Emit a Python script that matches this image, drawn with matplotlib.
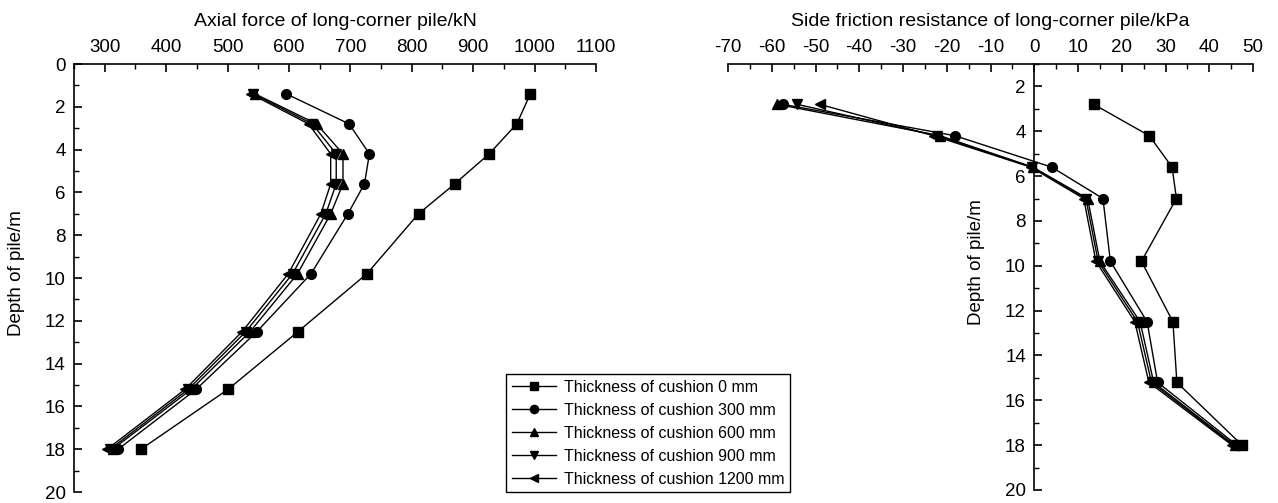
import matplotlib
matplotlib.use("Agg")
import matplotlib.pyplot as plt
from matplotlib.ticker import MultipleLocator, FixedLocator

plt.rcParams['font.family'] = ['Liberation Sans', 'DejaVu Sans']
plt.rcParams['axes.unicode_minus'] = False

# ---------------- data ----------------
series_labels = ["Thickness of cushion 0 mm", "Thickness of cushion 300 mm",
                 "Thickness of cushion 600 mm", "Thickness of cushion 900 mm",
                 "Thickness of cushion 1200 mm"]
markers = ["s", "o", "^", "v", "<"]

depth_axial = [1.4, 2.8, 4.2, 5.6, 7.0, 9.8, 12.5, 15.2, 18.0]
axial_0 = [993, 971, 926, 870, 811, 727, 615, 501, 359]
axial_300 = [596, 698, 731, 723, 696, 636, 548, 449, 322]
axial_600 = [545, 645, 688, 688, 668, 614, 537, 441, 313]
axial_900 = [542, 638, 677, 677, 660, 606, 530, 436, 309]
axial_1200 = [538, 632, 668, 668, 652, 599, 524, 431, 304]

depth_friction = [2.8, 4.2, 5.6, 7.0, 9.8, 12.5, 15.2, 18.0]
friction_0 = [13.6, 26.3, 31.5, 32.5, 24.5, 31.7, 32.6, 47.5]
friction_300 = [-57.4, -18.1, 4.0, 15.7, 17.4, 25.8, 28.2, 46.3]
friction_600 = [-58.7, -21.5, -0.3, 12.2, 15.0, 24.2, 27.3, 45.8]
friction_900 = [-54.2, -22.2, -0.5, 11.8, 14.6, 23.6, 26.8, 45.5]
friction_1200 = [-49.0, -23.0, -0.8, 11.3, 14.1, 23.0, 26.2, 45.2]

axial_series = [axial_0, axial_300, axial_600, axial_900, axial_1200]
friction_series = [friction_0, friction_300, friction_600, friction_900, friction_1200]

axial_ticks = [300, 400, 500, 600, 700, 800, 900, 1000, 1100]
friction_ticks = [-70, -60, -50, -40, -30, -20, -10, 0, 10, 20, 30, 40, 50]
depth_ticks_left = [0, 2, 4, 6, 8, 10, 12, 14, 16, 18, 20]
depth_ticks_right = [2, 4, 6, 8, 10, 12, 14, 16, 18, 20]

# ---------------- figure ----------------
W, H = 1278, 503
fig = plt.figure(figsize=(W / 100, H / 100), dpi=100)

FS = 13.5

def px_axes(x0, x1, ytop, ybot):
    return fig.add_axes([x0 / W, 1 - ybot / H, (x1 - x0) / W, (ybot - ytop) / H])

axL = px_axes(74, 596, 64, 492)
axR = px_axes(728, 1253, 64, 490)

line_kw = dict(color='black', lw=1.0, markersize=7)

handles = []
for vals, m, lab in zip(axial_series, markers, series_labels):
    h, = axL.plot(vals, depth_axial, marker=m, label=lab, **line_kw)
    handles.append(h)
for vals, m in zip(friction_series, markers):
    axR.plot(vals, depth_friction, marker=m, **line_kw)

# left axes
axL.set_xlim(250, 1100)
axL.set_ylim(20, 0)
axL.xaxis.set_major_locator(FixedLocator(axial_ticks))
axL.xaxis.set_minor_locator(MultipleLocator(50))
axL.yaxis.set_major_locator(FixedLocator(depth_ticks_left))
axL.yaxis.set_minor_locator(MultipleLocator(1))
axL.spines['right'].set_visible(False)
axL.spines['bottom'].set_visible(False)
axL.xaxis.tick_top()
axL.xaxis.set_label_position('top')
axL.set_xlabel("Axial force of long-corner pile/kN", fontsize=14, labelpad=9)
axL.set_ylabel("Depth of pile/m", fontsize=FS)
axL.yaxis.set_label_coords(-0.094, 0.512)

# right axes
axR.set_xlim(-70, 50)
axR.set_ylim(20, 1)
axR.xaxis.set_major_locator(FixedLocator(friction_ticks))
axR.xaxis.set_minor_locator(MultipleLocator(5))
axR.yaxis.set_major_locator(FixedLocator(depth_ticks_right))
axR.yaxis.set_minor_locator(MultipleLocator(1))
axR.spines['right'].set_visible(False)
axR.spines['bottom'].set_visible(False)
axR.spines['left'].set_position(('data', 0))
axR.xaxis.tick_top()
axR.xaxis.set_label_position('top')
axR.set_xlabel("Side friction resistance of long-corner pile/kPa", fontsize=14, labelpad=9)
axR.set_ylabel("Depth of pile/m", fontsize=FS)
axR.yaxis.set_label_coords(0.490, 0.535)

for ax in (axL, axR):
    for s in ax.spines.values():
        s.set_linewidth(1.2)
    ax.tick_params(which='major', direction='in', length=6, width=1.2, labelsize=FS, pad=6)
    ax.tick_params(which='minor', direction='in', length=3.5, width=1.0)
    ax.tick_params(axis='x', which='both', top=True, bottom=False, labeltop=True, labelbottom=False)
    ax.tick_params(axis='y', which='both', left=True, right=False)

fig.legend(handles=handles, loc='upper left', bbox_to_anchor=(506 / W, 1 - 374 / H),
           bbox_transform=fig.transFigure, borderaxespad=0, fontsize=11.5,
           frameon=True, fancybox=False, edgecolor='black', framealpha=1,
           handlelength=2.8, handletextpad=0.45, labelspacing=0.5, borderpad=0.35,
           markerscale=0.85)

fig.savefig("out.png", dpi=100)
